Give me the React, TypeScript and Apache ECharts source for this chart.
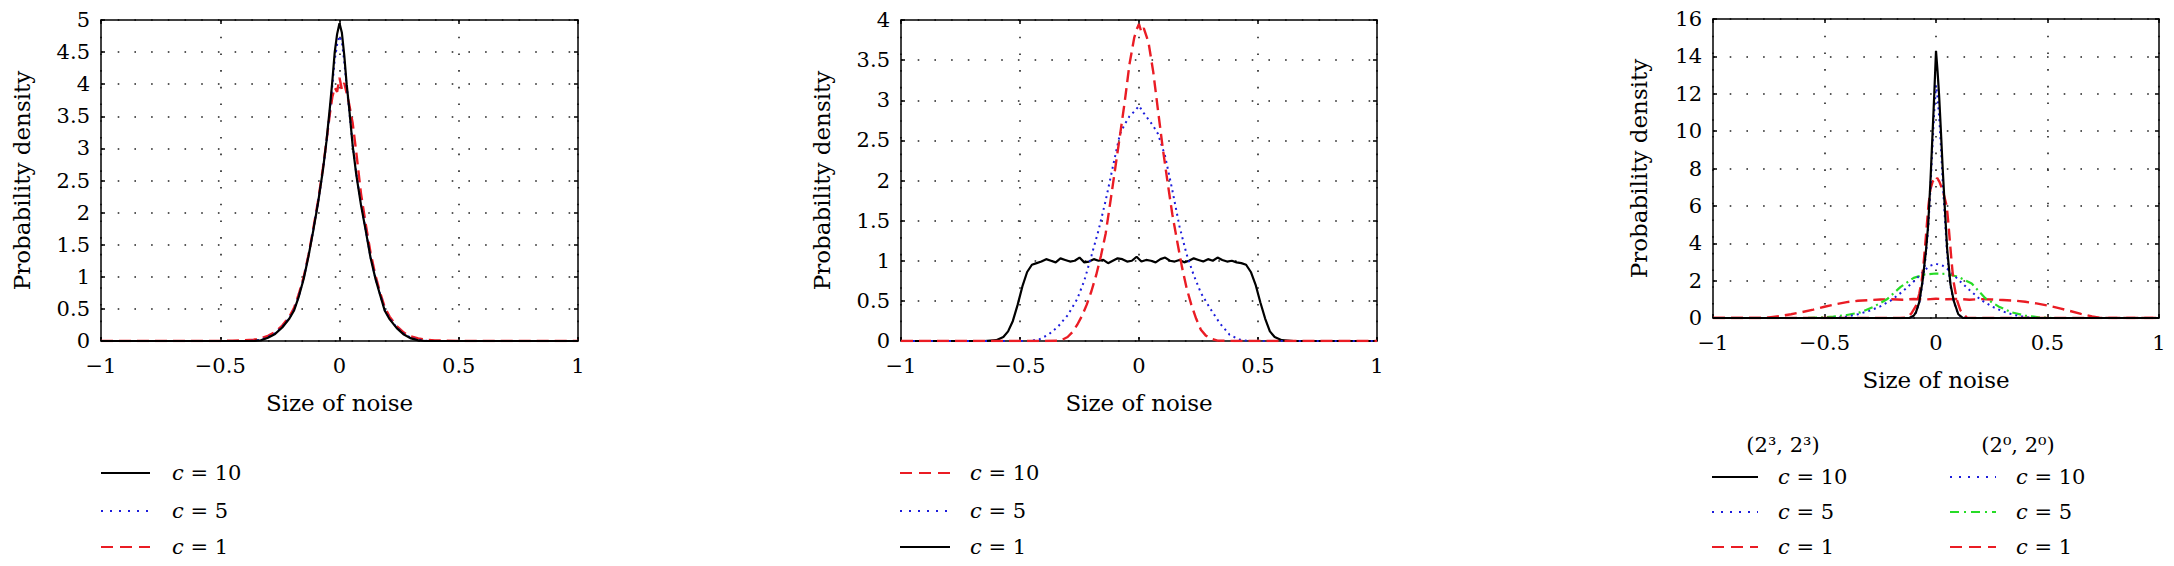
import React, { useEffect, useRef } from "react";
import * as echarts from "echarts";

// ---------------- data ----------------
// Panel 1
const p1X = [-1, -0.5, -0.45, -0.4, -0.36, -0.33, -0.3, -0.27, -0.24, -0.21, -0.19, -0.17, -0.15, -0.13, -0.11, -0.09, -0.07, -0.055, -0.04, -0.03, -0.02, -0.01, 0, 0.01, 0.02, 0.03, 0.04, 0.055, 0.07, 0.09, 0.11, 0.13, 0.15, 0.17, 0.19, 0.21, 0.24, 0.27, 0.3, 0.33, 0.36, 0.4, 0.45, 0.5, 1];
const p1C10 = [0, 0, 0, 0, 0, 0.01, 0.05, 0.11, 0.21, 0.35, 0.48, 0.7, 0.97, 1.32, 1.72, 2.15, 2.65, 3.1, 3.65, 4.05, 4.5, 4.78, 4.95, 4.8, 4.45, 4.0, 3.65, 3.05, 2.6, 2.12, 1.72, 1.3, 0.98, 0.72, 0.47, 0.34, 0.2, 0.1, 0.04, 0.01, 0, 0, 0, 0, 0];
const p1C5 = [0, 0, 0, 0, 0.005, 0.02, 0.06, 0.12, 0.22, 0.36, 0.49, 0.71, 0.98, 1.33, 1.73, 2.16, 2.64, 3.08, 3.6, 3.98, 4.38, 4.62, 4.75, 4.66, 4.35, 3.97, 3.62, 3.06, 2.62, 2.13, 1.73, 1.31, 0.99, 0.73, 0.48, 0.35, 0.21, 0.11, 0.05, 0.02, 0.005, 0, 0, 0, 0];
const p1C1 = [0, 0, 0.005, 0.01, 0.02, 0.04, 0.08, 0.14, 0.24, 0.38, 0.52, 0.74, 1.0, 1.34, 1.75, 2.18, 2.68, 3.1, 3.55, 3.8, 3.95, 3.88, 4.1, 3.92, 4.02, 3.86, 3.7, 3.4, 2.95, 2.3, 1.82, 1.38, 1.03, 0.76, 0.52, 0.38, 0.23, 0.13, 0.07, 0.04, 0.02, 0.01, 0.005, 0, 0];

// Panel 2
const p2RedX = [-1, -0.4, -0.33, -0.3, -0.28, -0.26, -0.24, -0.22, -0.2, -0.18, -0.16, -0.14, -0.12, -0.1, -0.08, -0.06, -0.04, -0.02, -0.01, 0, 0.01, 0.02, 0.04, 0.06, 0.08, 0.1, 0.12, 0.14, 0.16, 0.18, 0.2, 0.22, 0.24, 0.26, 0.28, 0.3, 0.33, 0.4, 1];
const p2C10 = [0, 0, 0.005, 0.05, 0.11, 0.2, 0.31, 0.45, 0.62, 0.82, 1.06, 1.34, 1.74, 2.15, 2.56, 2.98, 3.45, 3.78, 3.88, 3.95, 3.85, 3.9, 3.72, 3.35, 2.87, 2.4, 1.98, 1.58, 1.25, 0.93, 0.66, 0.45, 0.28, 0.14, 0.07, 0.03, 0.005, 0, 0];
const p2BlueX = [-1, -0.46, -0.42, -0.38, -0.34, -0.3, -0.26, -0.23, -0.2, -0.17, -0.14, -0.11, -0.08, -0.06, -0.04, -0.02, 0, 0.02, 0.04, 0.06, 0.08, 0.11, 0.14, 0.17, 0.2, 0.23, 0.26, 0.3, 0.34, 0.38, 0.42, 0.46, 1];
const p2C5 = [0, 0, 0.02, 0.08, 0.18, 0.32, 0.52, 0.75, 1.06, 1.38, 1.75, 2.17, 2.58, 2.7, 2.8, 2.86, 2.93, 2.84, 2.76, 2.68, 2.58, 2.3, 1.88, 1.43, 1.08, 0.82, 0.6, 0.4, 0.22, 0.08, 0.02, 0, 0];
const p2BlackX = [-1, -0.65, -0.6, -0.57, -0.55, -0.53, -0.51, -0.49, -0.47, -0.45, -0.43, -0.41, -0.39, -0.37, -0.35, -0.33, -0.31, -0.29, -0.27, -0.25, -0.23, -0.21, -0.19, -0.17, -0.15, -0.13, -0.11, -0.09, -0.07, -0.05, -0.03, -0.01, 0.01, 0.03, 0.05, 0.07, 0.09, 0.11, 0.13, 0.15, 0.17, 0.19, 0.21, 0.23, 0.25, 0.27, 0.29, 0.31, 0.33, 0.35, 0.37, 0.39, 0.41, 0.43, 0.45, 0.47, 0.49, 0.51, 0.53, 0.55, 0.57, 0.6, 0.65, 1];
const p2C1 = [0, 0, 0.01, 0.05, 0.12, 0.25, 0.45, 0.68, 0.86, 0.95, 0.97, 0.99, 1.02, 1.0, 0.98, 1.03, 1.01, 0.99, 1.0, 1.04, 0.98, 0.99, 1.02, 1.0, 1.01, 0.97, 1.0, 1.03, 1.02, 0.99, 1.0, 1.05, 0.99, 1.01, 1.0, 0.98, 1.02, 1.04, 1.0, 0.99, 1.01, 0.98, 1.0, 1.03, 1.01, 0.99, 1.02, 1.0, 1.04, 1.01, 0.99, 1.0, 0.98, 0.97, 0.95, 0.86, 0.7, 0.48, 0.28, 0.12, 0.05, 0.01, 0, 0];

// Panel 3 — (2^3, 2^3)
const p3NarrowX = [-1, -0.15, -0.12, -0.1, -0.09, -0.075, -0.06, -0.045, -0.035, -0.025, -0.015, -0.008, 0, 0.007, 0.014, 0.022, 0.03, 0.04, 0.05, 0.065, 0.08, 0.1, 0.12, 0.15, 1];
const p3A_C10 = [0, 0, 0, 0.12, 0.3, 0.85, 2.0, 3.6, 5.0, 7.3, 10.0, 11.9, 14.3, 13.2, 11.9, 10.0, 8.0, 5.8, 3.7, 1.8, 0.9, 0.2, 0.01, 0, 0];
const p3A_C5 = [0, 0, 0, 0.1, 0.28, 0.8, 1.9, 3.4, 4.8, 6.9, 9.4, 11.0, 12.45, 11.8, 10.8, 9.2, 7.3, 5.3, 3.4, 1.7, 0.85, 0.18, 0.01, 0, 0];
const p3A_C1X = [-1, -0.16, -0.13, -0.11, -0.09, -0.075, -0.064, -0.055, -0.045, -0.034, -0.025, -0.015, -0.005, 0, 0.005, 0.015, 0.025, 0.035, 0.048, 0.056, 0.063, 0.07, 0.078, 0.093, 0.11, 0.138, 0.17, 1];
const p3A_C1 = [0, 0, 0.02, 0.25, 0.65, 1.3, 2.0, 3.0, 4.4, 6.0, 6.9, 7.3, 7.45, 7.35, 7.5, 7.3, 7.0, 6.6, 6.0, 5.0, 4.0, 3.0, 2.0, 1.0, 0.4, 0.02, 0, 0];
// Panel 3 — (2^0, 2^0)
const p3B_C10X = [-1, -0.5, -0.44, -0.4, -0.35, -0.3, -0.25, -0.2, -0.15, -0.1, -0.06, -0.03, 0, 0.03, 0.06, 0.1, 0.15, 0.2, 0.25, 0.3, 0.35, 0.4, 0.44, 0.5, 1];
const p3B_C10 = [0, 0, 0.02, 0.08, 0.2, 0.38, 0.62, 0.95, 1.42, 1.95, 2.45, 2.78, 2.9, 2.8, 2.55, 2.05, 1.5, 0.98, 0.62, 0.35, 0.16, 0.05, 0.01, 0, 0];
const p3B_C5X = [-1, -0.58, -0.52, -0.46, -0.4, -0.34, -0.28, -0.22, -0.16, -0.1, -0.05, 0, 0.05, 0.1, 0.16, 0.22, 0.28, 0.34, 0.4, 0.46, 0.52, 1];
const p3B_C5 = [0, 0, 0.02, 0.08, 0.16, 0.3, 0.6, 1.0, 1.65, 2.15, 2.33, 2.38, 2.36, 2.2, 1.85, 1.07, 0.62, 0.3, 0.13, 0.04, 0, 0];
const p3B_C1X = [-1, -0.8, -0.76, -0.7, -0.65, -0.6, -0.55, -0.5, -0.45, -0.4, -0.35, -0.3, -0.25, -0.2, -0.15, -0.1, -0.05, 0, 0.05, 0.1, 0.15, 0.2, 0.25, 0.3, 0.35, 0.4, 0.45, 0.5, 0.56, 0.6, 0.65, 0.7, 0.74, 0.8, 1];
const p3B_C1 = [0, 0, 0.01, 0.1, 0.2, 0.32, 0.45, 0.6, 0.74, 0.85, 0.92, 0.96, 0.99, 1.0, 0.98, 1.02, 0.99, 1.03, 1.0, 1.02, 0.98, 1.01, 0.99, 0.96, 0.93, 0.87, 0.78, 0.67, 0.5, 0.38, 0.22, 0.08, 0.01, 0, 0];

// axes / labels
const xMin = -1;
const xMax = 1;
const xStep = 0.5;
const yMaxes = [5, 4, 16];
const ySteps = [0.5, 0.5, 2];
const xTitle = "Size of noise";
const yTitle = "Probability density";
const cValues = [10, 5, 1];
const p3Headers = ["(2³, 2³)", "(2⁰, 2⁰)"];

// ---------------- styles ----------------
const FONT = "DejaVu Serif";
const BLACK = "#000000";
const RED = "#ea1c24";
const BLUE = "#1c1cdc";
const GREEN = "#26dc26";

const styles: Record<string, { color: string; curveDash: any; legendDash: any; width: number }> = {
  black: { color: BLACK, curveDash: "solid", legendDash: null, width: 2.2 },
  blue: { color: BLUE, curveDash: [2, 4], legendDash: [2, 7], width: 2 },
  red: { color: RED, curveDash: [12, 6], legendDash: [12, 7], width: 2.4 },
  green: { color: GREEN, curveDash: [9, 4, 2, 4], legendDash: [9, 5, 2, 5], width: 2.2 },
};

const grids = [
  { left: 101, top: 20, width: 477, height: 321 },
  { left: 901, top: 20, width: 476, height: 321 },
  { left: 1713, top: 19, width: 446, height: 299 },
];
const yNameGaps = [68, 68, 63];

function pairs(xs: number[], ys: number[]) {
  return xs.map((x, i) => [x, ys[i]]);
}

function makeSeries(name: string, grid: number, xs: number[], ys: number[], st: string) {
  const s = styles[st];
  return {
    name,
    type: "line",
    xAxisIndex: grid * 2,
    yAxisIndex: grid * 2,
    data: pairs(xs, ys),
    showSymbol: false,
    symbol: "none",
    lineStyle: { color: s.color, width: s.width, type: s.curveDash },
    itemStyle: { color: s.color },
    silent: true,
  };
}

const fmtMinus = (v: number) => String(v).replace("-", "\u2212");

function buildAxes() {
  const xAxis: any[] = [];
  const yAxis: any[] = [];
  grids.forEach((_, i) => {
    const lineStyle = { color: BLACK, width: 1.5 };
    const tick = { show: true, inside: true, length: 4, lineStyle: { color: BLACK, width: 1.5 } };
    const split = { show: true, lineStyle: { color: "#222", width: 1.6, type: [1.6, 15.1] } };
    xAxis.push({
      type: "value", gridIndex: i, min: xMin, max: xMax, interval: xStep, position: "bottom",
      axisLine: { show: true, onZero: false, lineStyle },
      axisTick: tick,
      axisLabel: { color: BLACK, fontFamily: FONT, fontSize: 21, margin: 14, formatter: fmtMinus },
      splitLine: split,
      name: xTitle, nameLocation: "middle", nameGap: 50,
      nameTextStyle: { color: BLACK, fontFamily: FONT, fontSize: 23 },
    });
    xAxis.push({
      type: "value", gridIndex: i, min: xMin, max: xMax, interval: xStep, position: "top",
      axisLine: { show: true, onZero: false, lineStyle },
      axisTick: tick, axisLabel: { show: false }, splitLine: { show: false },
    });
    yAxis.push({
      type: "value", gridIndex: i, min: 0, max: yMaxes[i], interval: ySteps[i], position: "left",
      axisLine: { show: true, onZero: false, lineStyle },
      axisTick: tick,
      axisLabel: { color: BLACK, fontFamily: FONT, fontSize: 21, margin: 11 },
      splitLine: split,
      name: yTitle, nameLocation: "middle", nameGap: yNameGaps[i],
      nameTextStyle: { color: BLACK, fontFamily: FONT, fontSize: 23 },
    });
    yAxis.push({
      type: "value", gridIndex: i, min: 0, max: yMaxes[i], interval: ySteps[i], position: "right",
      axisLine: { show: true, onZero: false, lineStyle },
      axisTick: tick, axisLabel: { show: false }, splitLine: { show: false },
    });
  });
  return { xAxis, yAxis };
}

function legendItem(x1: number, x2: number, tx: number, y: number, st: string, c: number) {
  const s = styles[st];
  return [
    {
      type: "line",
      shape: { x1, y1: y, x2, y2: y },
      style: { stroke: s.color, lineWidth: 2.2, lineDash: s.legendDash },
      silent: true,
    },
    {
      type: "text",
      x: tx,
      y,
      silent: true,
      style: {
        text: "{i|c} = " + c,
        fill: BLACK,
        fontFamily: FONT,
        fontSize: 21,
        align: "left",
        verticalAlign: "middle",
        rich: {
          i: { fontStyle: "italic", fontFamily: FONT, fontSize: 21, fill: BLACK },
        },
      },
    },
  ];
}

function buildGraphics() {
  const g: any[] = [];
  const rows12 = [473, 511, 547];
  const st1 = ["black", "blue", "red"];
  const st2 = ["red", "blue", "black"];
  cValues.forEach((c, i) => {
    g.push(...legendItem(101, 150, 172, rows12[i], st1[i], c));
    g.push(...legendItem(900, 950, 970, rows12[i], st2[i], c));
  });
  const rows3 = [477, 512, 547];
  const st3a = ["black", "blue", "red"];
  const st3b = ["blue", "green", "red"];
  cValues.forEach((c, i) => {
    g.push(...legendItem(1712, 1758, 1778, rows3[i], st3a[i], c));
    g.push(...legendItem(1950, 1996, 2016, rows3[i], st3b[i], c));
  });
  [1783, 2018].forEach((cx, i) => {
    g.push({
      type: "text", x: cx, y: 445, silent: true,
      style: { text: p3Headers[i], fill: BLACK, fontFamily: FONT, fontSize: 21, align: "center", verticalAlign: "middle" },
    });
  });
  return g;
}

export default function App() {
  const ref = useRef<HTMLDivElement>(null);
  useEffect(() => {
    document.body.style.margin = "0";
    const chart = echarts.init(ref.current!, null, { renderer: "svg" });
    const { xAxis, yAxis } = buildAxes();
    const series = [
      makeSeries("p1 c=1", 0, p1X, p1C1, "red"),
      makeSeries("p1 c=5", 0, p1X, p1C5, "blue"),
      makeSeries("p1 c=10", 0, p1X, p1C10, "black"),
      makeSeries("p2 c=1", 1, p2BlackX, p2C1, "black"),
      makeSeries("p2 c=5", 1, p2BlueX, p2C5, "blue"),
      makeSeries("p2 c=10", 1, p2RedX, p2C10, "red"),
      makeSeries("p3 (2^0) c=1", 2, p3B_C1X, p3B_C1, "red"),
      makeSeries("p3 (2^0) c=5", 2, p3B_C5X, p3B_C5, "green"),
      makeSeries("p3 (2^0) c=10", 2, p3B_C10X, p3B_C10, "blue"),
      makeSeries("p3 (2^3) c=1", 2, p3A_C1X, p3A_C1, "red"),
      makeSeries("p3 (2^3) c=5", 2, p3NarrowX, p3A_C5, "blue"),
      makeSeries("p3 (2^3) c=10", 2, p3NarrowX, p3A_C10, "black"),
    ];
    chart.setOption({
      animation: false,
      backgroundColor: "#ffffff",
      textStyle: { fontFamily: FONT },
      grid: grids.map((g) => ({ ...g, containLabel: false })),
      xAxis,
      yAxis,
      series,
      graphic: buildGraphics(),
    });
    return () => chart.dispose();
  }, []);
  return <div ref={ref} style={{ width: 2174, height: 566 }} />;
}
